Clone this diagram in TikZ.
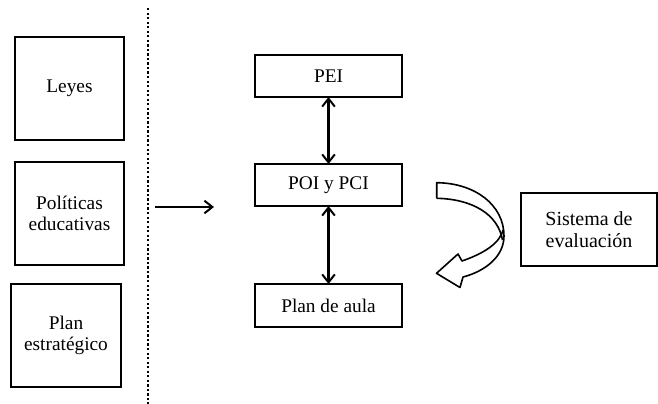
\documentclass[tikz,border=0pt]{standalone}
\usepackage{fontspec}
\setmainfont{Liberation Serif}
\usetikzlibrary{arrows.meta}
\begin{document}
\begin{tikzpicture}[x=0.75pt,y=-0.75pt,
  box/.style={draw,line width=1pt,inner sep=0pt,outer sep=0pt,align=center,
    font=\fontsize{14.5}{16.3}\selectfont},
  tip/.tip={Straight Barb[length=6pt,width=9.5pt,line width=1.5pt]},
  link/.style={line width=1.8pt,-tip},
  dlink/.style={line width=1.8pt,tip-tip},
  sep/.style={line width=1.7pt,dash pattern=on 1.7pt off 1.7pt,line cap=butt},
  blockarrow/.style={line width=1.2pt,line join=round}]
\useasboundingbox (0,0) rectangle (658,404);

% context boxes on the left
\node[box,minimum width=81.75pt,minimum height=77.25pt] (leyes) at (69.5,88.5) {Leyes};
\node[box,minimum width=81.75pt,minimum height=77.25pt] (politicas) at (69.5,213.5) {Políticas\\educativas};
\node[box,minimum width=82.5pt,minimum height=77.25pt] (plan) at (66,335.5) {Plan\\estratégico};

% dotted separator
\coordinate (sepTop) at (148,8);
\coordinate (sepBot) at (148,404);
\draw[sep] (sepTop) -- (sepBot);

% arrow into the institutional chain
\coordinate (inA) at (155,207);
\coordinate (inB) at (214,207);
\draw[link] (inA) -- (inB);

% institutional chain
\node[box,minimum width=110.25pt,minimum height=31.5pt] (pei) at (328.5,76) {PEI};
\node[box,minimum width=110.25pt,minimum height=31.5pt] (poi) at (328.5,185) {POI y PCI};
\node[box,minimum width=110.25pt,minimum height=32.25pt] (aula) at (328.5,305.5) {Plan de aula};
\draw[dlink] (pei.south) -- (poi.north);
\draw[dlink] (poi.south) -- (aula.north);

% evaluation system
\node[box,minimum width=102pt,minimum height=54.75pt,font=\fontsize{15}{16}\selectfont] (eval) at (589,229.5) {Sistema de\\evaluación};

% curved block arrow
\coordinate (tailT) at (436.7,182.7);
\coordinate (tailB) at (436.7,198.3);
\coordinate (outerR) at (504,236);
\coordinate (notchL) at (463,277);
\coordinate (barbL) at (460,287.5);
\coordinate (tipPt) at (436.5,273.3);
\coordinate (barbU) at (458,254);
\coordinate (notchU) at (462,261);
\coordinate (meet) at (503.5,229);
\coordinate (innerEnd) at (502.5,240);
\draw[blockarrow,fill=white] (tailB) -- (tailT)
  .. controls (475,183) and (504,205) .. (outerR)
  .. controls (504,256) and (486,271) .. (notchL)
  -- (barbL) -- (tipPt) -- (barbU) -- (notchU)
  .. controls (485,253) and (500,243) .. (meet);
\draw[blockarrow] (tailB) .. controls (472,199) and (498,214) .. (innerEnd);
\end{tikzpicture}
\end{document}
